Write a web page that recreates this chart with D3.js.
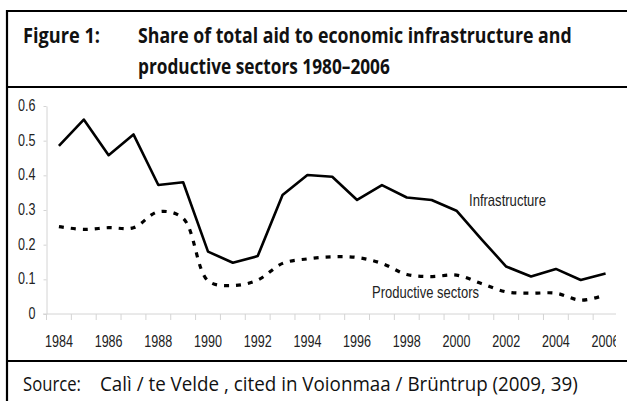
<!DOCTYPE html>
<html>
<head>
<meta charset="utf-8">
<script src="https://cdn.jsdelivr.net/npm/d3@7"></script>
<style>
body { margin: 0; background: #fff; }
svg { display: block; }
</style>
</head>
<body>
<svg width="627" height="401"></svg>
<script>
var years = d3.range(1984, 2007);
var yTicks = [0, 0.1, 0.2, 0.3, 0.4, 0.5, 0.6];
var infrastructure = [0.485, 0.561, 0.458, 0.518, 0.372, 0.380, 0.180, 0.148, 0.167, 0.343, 0.401,
    0.396, 0.329, 0.372, 0.336, 0.329, 0.298, 0.216, 0.137, 0.108, 0.130, 0.098, 0.117];
var productive = [0.252, 0.244, 0.249, 0.249, 0.295, 0.276, 0.096, 0.082, 0.098, 0.146, 0.159,
    0.165, 0.163, 0.146, 0.114, 0.108, 0.112, 0.088, 0.064, 0.060, 0.060, 0.040, 0.055];

var svg = d3.select("svg");

// frame
svg.append("rect").attr("x", 0).attr("y", 0).attr("width", 627).attr("height", 401).style("fill", "#fff");
svg.append("line").attr("x1", 7).attr("x2", 627).attr("y1", 11).attr("y2", 11)
    .style("stroke", "#000").style("stroke-width", 2.2);
svg.append("line").attr("x1", 7).attr("x2", 7).attr("y1", 10).attr("y2", 401)
    .style("stroke", "#000").style("stroke-width", 2.2);
svg.append("line").attr("x1", 7).attr("x2", 627).attr("y1", 87).attr("y2", 87)
    .style("stroke", "#000").style("stroke-width", 2.2);
svg.append("line").attr("x1", 7).attr("x2", 627).attr("y1", 361).attr("y2", 361)
    .style("stroke", "#000").style("stroke-width", 2.2);

// text squeezed horizontally to a target width
function fitText(txt, tx, ty, width, sy, font, size, weight, fill) {
    var t = svg.append("text")
        .style("font-family", font).style("font-size", size + "px")
        .style("font-weight", weight).style("fill", fill)
        .text(txt);
    var k = width / t.node().getComputedTextLength();
    t.attr("transform", "translate(" + tx + "," + ty + ") scale(" + k + "," + sy + ")");
    return t;
}

var titleFont = "'Open Sans', 'Noto Sans', sans-serif";
fitText("Figure 1:", 23, 43, 77, 1, titleFont, 21, 700, "#111");
fitText("Share of total aid to economic infrastructure and", 138, 43, 434, 1, titleFont, 21, 700, "#111");
fitText("productive sectors 1980–2006", 138, 74, 252, 1, titleFont, 21, 700, "#111");

fitText("Source:", 23, 391, 58, 1, titleFont, 20, 400, "#111");
fitText("Calì / te Velde , cited in Voionmaa / Brüntrup (2009, 39)", 100, 391, 478, 1, titleFont, 20, 400, "#111");

// scales
var x = d3.scaleBand().domain(years).range([46.5, 618]);
var y = d3.scaleLinear().domain([0, 0.6]).range([314, 106]);
var tickFont = "'Liberation Sans', Arial, sans-serif";

// horizontal squeeze for tick labels, from one measured year label
var probe = svg.append("text").style("font-family", tickFont).style("font-size", "13px").text("1984");
var tickK = 28 / probe.node().getComputedTextLength();
probe.remove();

svg.append("clipPath").attr("id", "plotclip")
    .append("rect").attr("x", 0).attr("y", 88).attr("width", 616).attr("height", 272);

// y axis
var yAxis = svg.append("g").attr("transform", "translate(46.5,0)")
    .call(d3.axisLeft(y).tickValues(yTicks).tickSize(3).tickSizeOuter(0)
        .tickFormat(function(d) { return d === 0 ? "0" : d3.format(".1f")(d); }));
yAxis.select(".domain").style("stroke", "#d4d4d4");
yAxis.selectAll(".tick line").style("stroke", "#d4d4d4");
yAxis.selectAll(".tick text")
    .attr("x", null).attr("dy", null).attr("y", null)
    .attr("transform", "translate(-11,4.5) scale(" + tickK + ",1.22)")
    .style("font-family", tickFont).style("font-size", "13px").style("fill", "#222");

// x axis
var xAxis = svg.append("g").attr("clip-path", "url(#plotclip)")
    .append("g").attr("transform", "translate(0,314)");
xAxis.append("line").attr("x1", 43).attr("x2", 618).attr("y1", 0).attr("y2", 0)
    .style("stroke", "#d4d4d4");
xAxis.selectAll(".xt").data(years.concat([2007])).enter().append("line")
    .attr("class", "xt")
    .attr("x1", function(d) { return d === 2007 ? 618 : x(d); })
    .attr("x2", function(d) { return d === 2007 ? 618 : x(d); })
    .attr("y1", 0).attr("y2", 6)
    .style("stroke", "#d4d4d4");
xAxis.selectAll(".xl").data(years.filter(function(d) { return d % 2 === 0; })).enter().append("text")
    .attr("class", "xl")
    .attr("transform", function(d) {
        return "translate(" + (x(d) + x.bandwidth() / 2) + ",32.5) scale(" + tickK + ",1.22)";
    })
    .attr("text-anchor", "middle")
    .style("font-family", tickFont).style("font-size", "13px").style("fill", "#222")
    .text(function(d) { return d; });

// lines
var cx = function(d, i) { return x(years[i]) + x.bandwidth() / 2; };
var lineSolid = d3.line().x(cx).y(function(d) { return y(d); });
var lineDash = d3.line().x(cx).y(function(d) { return y(d); }).curve(d3.curveCatmullRom.alpha(0.5));

svg.append("path").datum(productive)
    .attr("d", lineDash)
    .style("fill", "none").style("stroke", "#000").style("stroke-width", 3.2)
    .style("stroke-dasharray", "5,7");

svg.append("path").datum(infrastructure)
    .attr("d", lineSolid)
    .style("fill", "none").style("stroke", "#000").style("stroke-width", 2.6)
    .style("stroke-linejoin", "round");

// series labels
fitText("Infrastructure", 469, 206, 77, 1.22, tickFont, 13, 400, "#222");
fitText("Productive sectors", 372, 298, 107, 1.22, tickFont, 13, 400, "#222");
</script>
</body>
</html>
